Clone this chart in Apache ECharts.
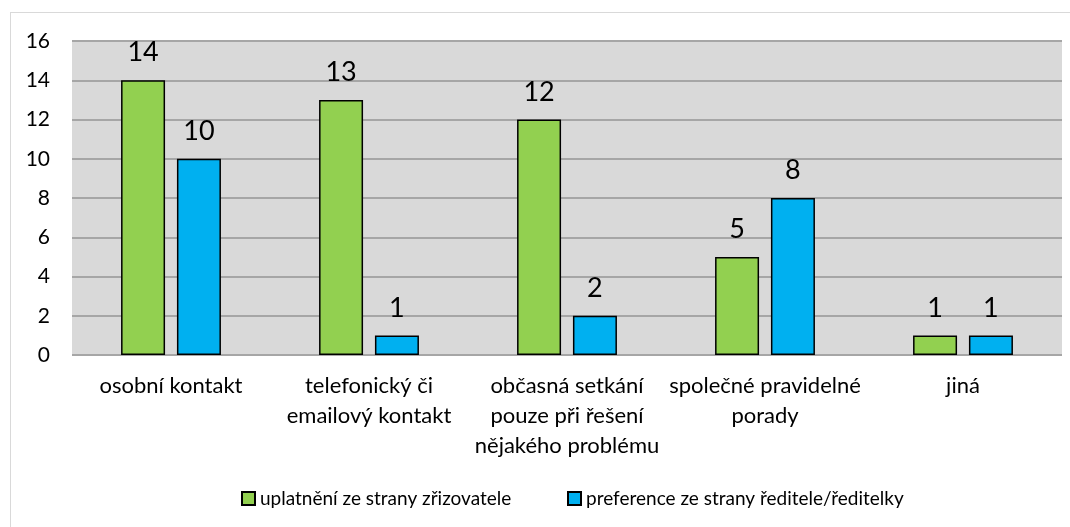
<!DOCTYPE html>
<html>
<head>
<meta charset="utf-8">
<script src="https://cdn.jsdelivr.net/npm/echarts@6/dist/echarts.min.js"></script>
<style>
  html, body { margin: 0; padding: 0; background: #fff; }
  #frame { position: absolute; left: 10px; top: 12px; width: 1070px; height: 530px; border: 1px solid #d9d9d9; }
  #main { position: absolute; left: 0; top: 0; width: 1070px; height: 527px; }
</style>
</head>
<body>
<div id="frame"></div>
<div id="main"></div>
<script>
// kategorie a hodnoty
var categories = [
  "osobní kontakt",
  "telefonický či\nemailový kontakt",
  "občasná setkání\npouze při řešení\nnějakého problému",
  "společné pravidelné\nporady",
  "jiná"
];
var zrizovatel = [14, 13, 12, 5, 1];
var reditel = [10, 1, 2, 8, 1];
var seriesNames = ["uplatnění ze strany zřizovatele", "preference ze strany ředitele/ředitelky"];

var font = "Lato, 'Open Sans', sans-serif";
var legendText = { fontSize: 19, color: "#000", fontFamily: font };
var myChart = echarts.init(document.getElementById("main"));
myChart.setOption({
  animation: false,
  textStyle: { fontFamily: font },
  grid: {
    left: 72,
    right: 8,
    top: 41,
    height: 314,
    show: true,
    backgroundColor: "#d9d9d9",
    borderWidth: 0
  },
  legend: [
    {
      top: 484, left: 236,
      icon: "rect",
      itemWidth: 13, itemHeight: 13,
      textStyle: legendText,
      data: [seriesNames[0]]
    },
    {
      top: 484, left: 562,
      icon: "rect",
      itemWidth: 13, itemHeight: 13,
      textStyle: legendText,
      data: [seriesNames[1]]
    }
  ],
  xAxis: {
    type: "category",
    data: categories,
    axisTick: { show: false },
    axisLine: { show: false },
    axisLabel: {
      interval: 0,
      margin: 16,
      fontSize: 22,
      lineHeight: 30,
      color: "#000",
      fontFamily: font
    }
  },
  yAxis: {
    type: "value",
    min: 0,
    max: 16,
    interval: 2,
    axisLine: { show: false },
    axisTick: { show: false },
    axisLabel: { fontSize: 21, color: "#000", margin: 22, fontFamily: font },
    splitLine: { lineStyle: { color: "#a6a6a6", width: 2 } }
  },
  series: [
    {
      name: seriesNames[0],
      type: "bar",
      data: zrizovatel,
      barWidth: 44,
      barGap: "27%",
      itemStyle: { color: "#92d050", borderColor: "#000", borderWidth: 1.5 },
      label: { show: true, position: "top", distance: 14, fontSize: 27, color: "#000", fontFamily: font }
    },
    {
      name: seriesNames[1],
      type: "bar",
      data: reditel,
      barWidth: 44,
      itemStyle: { color: "#00b0f0", borderColor: "#000", borderWidth: 1.5 },
      label: { show: true, position: "top", distance: 14, fontSize: 27, color: "#000", fontFamily: font }
    }
  ]
});
</script>
</body>
</html>
